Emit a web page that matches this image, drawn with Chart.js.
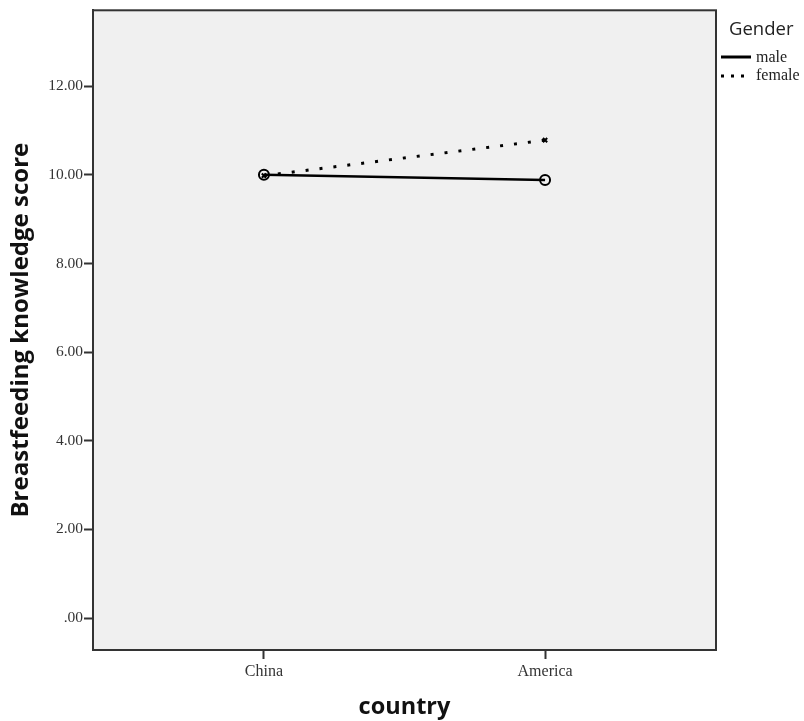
<!DOCTYPE html>
<html><head><meta charset="utf-8">
<script src="https://cdn.jsdelivr.net/npm/chart.js@4"></script>
<style>html,body{margin:0;padding:0;background:#fff}#wrap{width:804px;height:721px}</style>
</head><body><div id="wrap"><canvas id="c" width="804" height="721"></canvas></div>
<script>
const categories = ["China", "America"];
const maleValues = [10.00, 9.88];
const femaleValues = [9.98, 10.78];
const yTicks = [0, 2, 4, 6, 8, 10, 12];
const seriesNames = ["male", "female"];
const legendTitle = "Gender";

function pts(vals){ return vals.map((v,i)=>({x:i+1,y:v})); }

const bgPlugin = {
  id:'bg',
  beforeDraw(chart){
    const {ctx, chartArea:a} = chart;
    ctx.save(); ctx.fillStyle='#f0f0f0';
    ctx.fillRect(a.left,a.top,a.right-a.left,a.bottom-a.top); ctx.restore();
  },
  afterDraw(chart){
    const {ctx, chartArea:a} = chart;
    ctx.save(); ctx.strokeStyle='#333'; ctx.lineWidth=2;
    ctx.strokeRect(a.left,a.top,a.right-a.left,a.bottom-a.top);
    // legend
    ctx.fillStyle='#222'; ctx.font='18.5px "Open Sans", sans-serif'; ctx.textBaseline='middle';
    ctx.fillText(legendTitle, 729, 30);
    ctx.strokeStyle='#000'; ctx.lineWidth=3;
    ctx.beginPath(); ctx.moveTo(721,57); ctx.lineTo(751,57); ctx.stroke();
    ctx.setLineDash([3,7]); ctx.lineWidth=3;
    ctx.beginPath(); ctx.moveTo(721,76); ctx.lineTo(751,76); ctx.stroke();
    ctx.setLineDash([]);
    ctx.font='16px "Liberation Serif", serif'; ctx.fillStyle='#222';
    ctx.fillText(seriesNames[0], 756, 58);
    ctx.fillText(seriesNames[1], 756, 76);
    ctx.restore();
  }
};

new Chart(document.getElementById('c'), {
  type:'line',
  data:{datasets:[
    {label:seriesNames[0], data:pts(maleValues), borderColor:'#000', borderWidth:2.5,
     pointStyle:'circle', pointRadius:5, pointBorderWidth:2, pointBorderColor:'#000', pointBackgroundColor:'rgba(0,0,0,0)'},
    {label:seriesNames[1], data:pts(femaleValues), borderColor:'#000', borderWidth:3, borderDash:[3,11],
     pointStyle:'crossRot', pointRadius:3, pointBorderWidth:2, pointBorderColor:'#000'}
  ]},
  options:{
    responsive:false, animation:false,
    layout:{padding:{left:0,top:9,right:88,bottom:0}},
    plugins:{legend:{display:false}, tooltip:{enabled:false}},
    scales:{
      x:{type:'linear', min:0.392, max:2.608,
        afterBuildTicks(s){ s.ticks = categories.map((c,i)=>({value:i+1})); },
        afterFit(s){ s.height = 71; },
        ticks:{callback:(v)=>categories[v-1], color:'#333', font:{family:'"Liberation Serif", serif', size:16}, padding:3, maxRotation:0},
        grid:{drawOnChartArea:false, drawTicks:true, tickLength:9, tickColor:'#333', tickWidth:2},
        border:{display:true, color:'#333', width:2},
        title:{display:true, text:'country', color:'#111', font:{family:'"Open Sans", sans-serif', size:23.5, weight:'bold'}, padding:{top:4,bottom:0}}
      },
      y:{type:'linear', min:-0.72, max:13.71,
        afterBuildTicks(s){ s.ticks = yTicks.map(v=>({value:v})); },
        afterFit(s){ s.width = 93; },
        ticks:{callback:(v)=> v===0 ? '.00' : v.toFixed(2), color:'#333', font:{family:'"Liberation Serif", serif', size:15.5}, padding:1},
        grid:{drawOnChartArea:false, drawTicks:true, tickLength:9, tickColor:'#333', tickWidth:2},
        border:{display:true, color:'#333', width:2},
        title:{display:true, text:'Breastfeeding knowledge score', color:'#111', font:{family:'"Open Sans", sans-serif', size:24, weight:'bold'}, padding:{top:7,bottom:0}}
      }
    }
  },
  plugins:[bgPlugin]
});
</script></body></html>
